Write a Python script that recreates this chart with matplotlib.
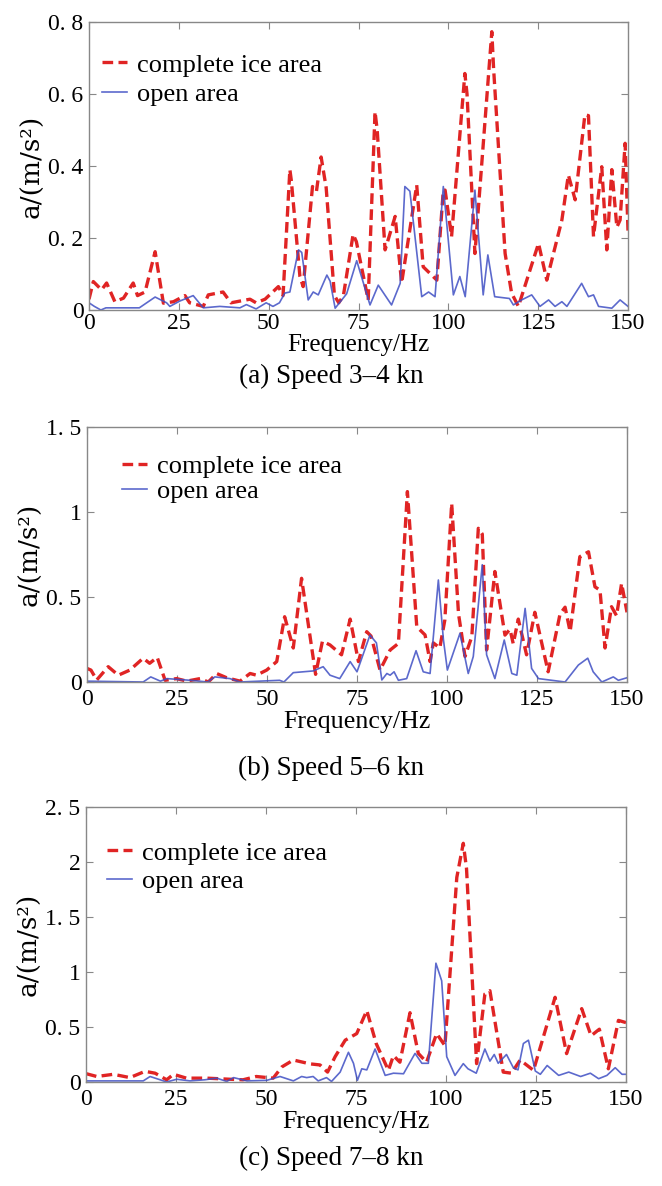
import matplotlib
matplotlib.use("Agg")
import matplotlib.pyplot as plt
from matplotlib.ticker import FixedLocator, FixedFormatter

plt.rcParams['font.family'] = ['Liberation Serif', 'DejaVu Serif']

# ---------------- Panel (a) Speed 3-4 kn ----------------
a_ice_f = [0, 1.2, 3.5, 4.9, 7.2, 9.6, 12.3, 13.5, 15.6, 18.4, 20.7, 23.5, 26.7, 28, 31.8, 33.2, 37.3,
           39.5, 44.8, 46.5, 49, 52.7, 54, 55.9, 56.3, 58.7, 59.6, 62.2, 63.3, 64.6, 66, 68.3, 69.5,
           70.8, 73.5, 74.4, 77.7, 79.6, 80.2, 82.4, 85.2, 87, 91.2, 93, 96.8, 98.6, 99.1, 100.9,
           104.6, 105.2, 107.4, 112.1, 112.6, 115.8, 117.6, 119.5, 125.1, 127.4, 131.6, 133.4,
           135.3, 138, 139, 140.4, 142.7, 144.1, 145.5, 146.9, 147.8, 149.2, 150]
a_ice_v = [0.03, 0.079, 0.056, 0.075, 0.023, 0.033, 0.075, 0.04, 0.05, 0.162, 0.019, 0.023, 0.04,
           0.02, 0.01, 0.042, 0.05, 0.02, 0.03, 0.02, 0.03, 0.065, 0.04, 0.39, 0.36, 0.093, 0.065,
           0.343, 0.33, 0.425, 0.34, 0.04, 0.02, 0.04, 0.21, 0.19, 0.028, 0.551, 0.5, 0.167, 0.26,
           0.075, 0.347, 0.12, 0.083, 0.333, 0.333, 0.204, 0.657, 0.6, 0.157, 0.773, 0.67, 0.157,
           0.047, 0.01, 0.185, 0.083, 0.25, 0.375, 0.306, 0.542, 0.54, 0.204, 0.398, 0.167, 0.39,
           0.23, 0.25, 0.463, 0.22]
a_open_f = [0, 1.5, 3.3, 4.7, 14, 18.4, 21.6, 22.5, 25.3, 29, 31.8, 36.4, 42, 43.8, 46.5, 49.3, 51.2,
            53, 54.5, 55.9, 58.3, 59.2, 61, 62.4, 63.8, 66.2, 67.1, 68.5, 71.7, 74.5, 78.2, 80.5,
            84.2, 86.6, 87.9, 89.3, 92.6, 94.5, 96.3, 98.6, 101.4, 103.2, 104.7, 107.4, 109.7, 111,
            112.9, 117, 118.1, 120.4, 123.2, 125.5, 127.9, 129.7, 131.6, 133, 137.1, 139, 140.4,
            141.8, 145.5, 147.8, 150]
a_open_v = [0.02, 0.01, 0.0, 0.006, 0.006, 0.036, 0.02, 0.01, 0.025, 0.04, 0.006, 0.01, 0.006, 0.015,
            0.003, 0.02, 0.01, 0.02, 0.047, 0.05, 0.167, 0.16, 0.028, 0.05, 0.042, 0.097, 0.08, 0.005,
            0.045, 0.137, 0.014, 0.069, 0.014, 0.074, 0.343, 0.33, 0.037, 0.05, 0.037, 0.343, 0.042,
            0.093, 0.037, 0.333, 0.042, 0.153, 0.037, 0.032, 0.014, 0.028, 0.042, 0.01, 0.028, 0.01,
            0.023, 0.01, 0.074, 0.037, 0.042, 0.01, 0.005, 0.028, 0.01]

# ---------------- Panel (b) Speed 5-6 kn ----------------
b_ice_f = [0, 1.1, 2.7, 5.9, 8.7, 11.9, 15.6, 17.4, 19.5, 21.7, 24.9, 27.7, 31.4, 33.7, 36, 38.8,
           42.5, 45.3, 47.1, 49.9, 52.7, 54.9, 57.3, 59.6, 63.5, 65.4, 67.5, 70.7, 73.1, 75.4, 77.7,
           78.9, 81.4, 84.2, 86.5, 89, 91.6, 93.9, 95.3, 96.2, 98, 99.4, 101.3, 103.2, 105, 106.9,
           108.7, 109.8, 111, 113.3, 116.1, 117.5, 118.4, 119.8, 122.1, 124.4, 128.1, 131.4,
           132.8, 134.2, 136.9, 139.3, 141.1, 142.5, 143.9, 145.7, 147.1, 148.5, 150]
b_ice_v = [0.08, 0.07, 0.012, 0.09, 0.04, 0.07, 0.14, 0.11, 0.145, 0.01, 0.02, 0.005, 0.02, 0.0,
           0.05, 0.025, 0.005, 0.05, 0.04, 0.07, 0.12, 0.384, 0.2, 0.61, 0.045, 0.24, 0.218, 0.16,
           0.37, 0.12, 0.296, 0.27, 0.07, 0.188, 0.227, 1.12, 0.325, 0.277, 0.12, 0.23, 0.2, 0.365,
           1.05, 0.4, 0.15, 0.267, 0.904, 0.87, 0.188, 0.65, 0.276, 0.31, 0.225, 0.37, 0.16, 0.41,
           0.06, 0.4, 0.44, 0.296, 0.737, 0.766, 0.56, 0.54, 0.2, 0.443, 0.39, 0.58, 0.41]
b_open_f = [0, 15.6, 17.7, 20.4, 22.2, 28.7, 33.5, 35.5, 39.7, 42.5, 48, 53.5, 54.7, 57.3, 62.8,
            65.6, 67.5, 70.2, 73.1, 75, 78.6, 80.4, 81.9, 83.3, 84.2, 85.3, 86.5, 88.8, 91.4, 93.4,
            95.3, 97.6, 99, 100.1, 103.6, 105.9, 107.3, 109.8, 111, 113.3, 115.9, 118, 119.4, 121.7,
            123.5, 125.4, 129.1, 132.8, 136.5, 139.1, 140.6, 143, 146.2, 147.6, 150]
b_open_v = [0.005, 0.0, 0.03, 0.005, 0.02, 0.01, 0.0, 0.03, 0.02, 0.0, 0.005, 0.01, 0.0, 0.055, 0.065,
            0.09, 0.04, 0.02, 0.12, 0.06, 0.276, 0.23, 0.012, 0.05, 0.04, 0.06, 0.01, 0.02, 0.184,
            0.06, 0.05, 0.6, 0.25, 0.07, 0.286, 0.05, 0.15, 0.69, 0.16, 0.02, 0.247, 0.05, 0.04,
            0.433, 0.08, 0.02, 0.01, 0.0, 0.1, 0.14, 0.06, 0.0, 0.03, 0.01, 0.025]

# ---------------- Panel (c) Speed 7-8 kn ----------------
c_ice_f = [0, 3, 7.6, 12.2, 16.4, 19.2, 22.4, 24.3, 27.9, 33.5, 40, 43.6, 47.3, 52, 54.4, 57.6, 62.2,
           65, 67.1, 69.2, 72, 75.2, 78, 80.6, 84, 85.4, 87.2, 90, 92.3, 94.6, 97.4, 99.7, 103,
           104.8, 105.7, 108.5, 110.8, 112.2, 115.9, 118.2, 120.6, 124.3, 130.3, 133.5, 137.7,
           140.3, 142.6, 145.1, 147.9, 150]
c_ice_v = [0.076, 0.05, 0.07, 0.04, 0.097, 0.08, 0.02, 0.07, 0.035, 0.035, 0.025, 0.02, 0.05, 0.035,
           0.137, 0.2, 0.165, 0.155, 0.09, 0.23, 0.38, 0.44, 0.65, 0.35, 0.106, 0.24, 0.18, 0.63,
           0.26, 0.18, 0.44, 0.33, 1.86, 2.17, 1.94, 0.167, 0.8, 0.83, 0.09, 0.08, 0.2, 0.106, 0.77,
           0.258, 0.667, 0.42, 0.48, 0.12, 0.56, 0.54]
c_open_f = [0, 15.9, 17.8, 20.6, 22.4, 25.2, 28.9, 33, 36.3, 39.1, 41, 44.7, 50.2, 53.9, 57.6, 59.9,
            61.3, 63.1, 64.5, 66.8, 68.2, 70.6, 72.9, 74.3, 75.4, 76.6, 78, 80.3, 83.1, 85.4, 88.2,
            91.4, 93.3, 95.1, 97.2, 98.8, 100.2, 102.5, 104.8, 106.1, 108.4, 110.8, 112.2, 113.4,
            114.5, 116.8, 118.7, 120, 121.5, 122.9, 124.8, 126.2, 128.1, 131.3, 134.1, 137.4,
            140.1, 142.4, 144.7, 147, 148.9, 150]
c_open_v = [0.01, 0.01, 0.05, 0.02, 0.0, 0.025, 0.01, 0.02, 0.035, 0.005, 0.04, 0.01, 0.015, 0.05,
            0.01, 0.05, 0.04, 0.05, 0.01, 0.04, 0.005, 0.09, 0.27, 0.17, 0.015, 0.12, 0.11, 0.3,
            0.06, 0.08, 0.075, 0.26, 0.17, 0.17, 1.08, 0.92, 0.23, 0.06, 0.167, 0.12, 0.08, 0.3,
            0.19, 0.25, 0.17, 0.25, 0.13, 0.11, 0.35, 0.38, 0.1, 0.07, 0.15, 0.06, 0.09, 0.05, 0.08,
            0.03, 0.06, 0.13, 0.07, 0.07]

x_ticks = [0, 25, 50, 75, 100, 125, 150]
a_yticks = [0, 0.2, 0.4, 0.6, 0.8]
a_ylabels = ["0", "0. 2", "0. 4", "0. 6", "0. 8"]
b_yticks = [0, 0.5, 1.0, 1.5]
b_ylabels = ["0", "0. 5", "1", "1. 5"]
c_yticks = [0, 0.5, 1.0, 1.5, 2.0, 2.5]
c_ylabels = ["0", "0. 5", "1", "1. 5", "2", "2. 5"]
captions = ["(a) Speed 3\u20134 kn", "(b) Speed 5\u20136 kn", "(c) Speed 7\u20138 kn"]
legend_labels = ["complete ice area", "open area"]

RED = "#e02424"
BLUE = "#3f4fc4"

fig = plt.figure(figsize=(6.62, 11.86), dpi=100)

panels = [
    dict(rect=[89/662, 1-310/1186, 539/662, 288/1186], ice=(a_ice_f, a_ice_v), opn=(a_open_f, a_open_v),
         yt=a_yticks, yl=a_ylabels, ymax=0.8, cap_y=1-376/1186, leg=(0.0236, 0.892), lsp=0.23,
         xpad=2, lpad=0, xfs=18),
    dict(rect=[87/662, 1-682/1186, 540/662, 255/1186], ice=(b_ice_f, b_ice_v), opn=(b_open_f, b_open_v),
         yt=b_yticks, yl=b_ylabels, ymax=1.5, cap_y=1-768/1186, leg=(0.064, 0.891), lsp=0.05,
         xpad=5, lpad=1, xfs=18.7),
    dict(rect=[86/662, 1-1082/1186, 540/662, 275/1186], ice=(c_ice_f, c_ice_v), opn=(c_open_f, c_open_v),
         yt=c_yticks, yl=c_ylabels, ymax=2.5, cap_y=1-1158/1186, leg=(0.038, 0.876), lsp=0.18,
         xpad=5, lpad=1, xfs=18.7),
]

for i, p in enumerate(panels):
    ax = fig.add_axes(p["rect"])
    ax.plot(p["ice"][0], p["ice"][1], color=RED, lw=2.4, ls=(0, (3.2, 1.6)), label=legend_labels[0])
    ax.plot(p["opn"][0], p["opn"][1], color=BLUE, lw=1.2, alpha=0.85, label=legend_labels[1])
    ax.set_xlim(0, 150)
    ax.set_ylim(0, p["ymax"])
    ax.xaxis.set_major_locator(FixedLocator(x_ticks))
    ax.yaxis.set_major_locator(FixedLocator(p["yt"]))
    ax.yaxis.set_major_formatter(FixedFormatter(p["yl"]))
    ax.tick_params(direction="in", top=True, right=True, length=5, width=0.8, colors="#888888",
                   labelcolor="black", labelsize=17)
    ax.tick_params(axis="x", pad=p["xpad"])
    ax.tick_params(axis="y", pad=4)
    for s in ax.spines.values():
        s.set_color("#888888")
        s.set_linewidth(1.0)
    ax.set_xlabel("Frequency/Hz", fontsize=p["xfs"], labelpad=p["lpad"])
    ax.set_ylabel("a/(m/s\u00b2)", fontsize=19, family=['DejaVu Serif'])
    ax.yaxis.set_label_coords(-0.082, 0.5)
    ax.legend(loc="upper left", bbox_to_anchor=p["leg"], frameon=False, fontsize=19,
              handlelength=0.95, handletextpad=0.4, labelspacing=p["lsp"],
              borderaxespad=0.0, borderpad=0.0)
    fig.text(0.5, p["cap_y"], captions[i], ha="center", va="center", fontsize=19.5)

fig.savefig("out.png", dpi=100)
